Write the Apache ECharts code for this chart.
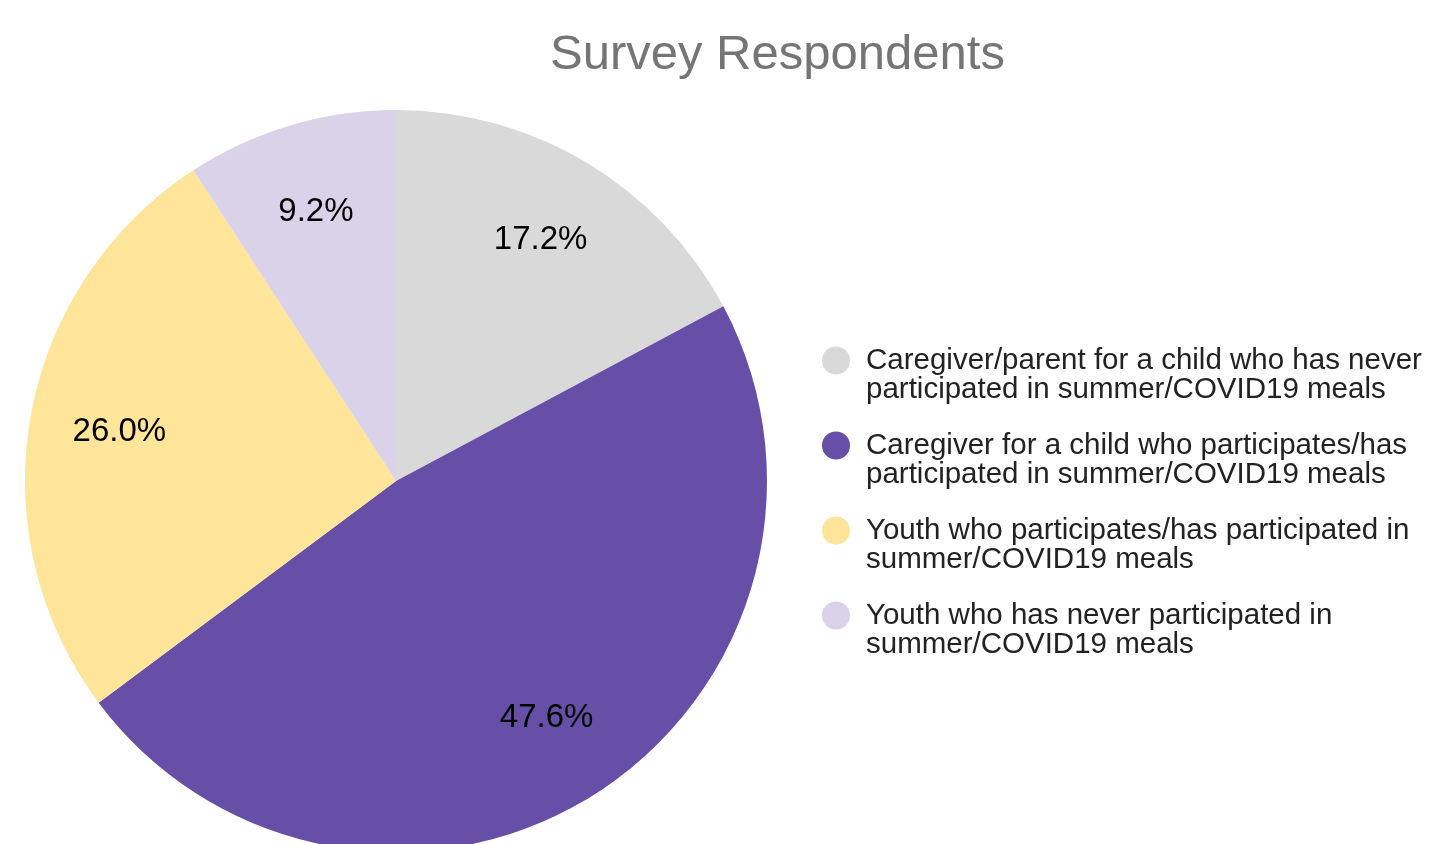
<!DOCTYPE html>
<html>
<head>
<meta charset="utf-8">
<script src="https://cdn.jsdelivr.net/npm/echarts@6/dist/echarts.min.js"></script>
<style>
html,body{margin:0;padding:0;background:#fff;}
#chart{width:1432px;height:844px;}
</style>
</head>
<body>
<div id="chart"></div>
<script>
const categories = [
  'Caregiver/parent for a child who has never participated in summer/COVID19 meals',
  'Caregiver for a child who participates/has participated in summer/COVID19 meals',
  'Youth who participates/has participated in summer/COVID19 meals',
  'Youth who has never participated in summer/COVID19 meals'
];
const legendLabels = [
  'Caregiver/parent for a child who has never\nparticipated in summer/COVID19 meals',
  'Caregiver for a child who participates/has\nparticipated in summer/COVID19 meals',
  'Youth who participates/has participated in\nsummer/COVID19 meals',
  'Youth who has never participated in\nsummer/COVID19 meals'
];
const values = [17.2, 47.6, 26.0, 9.2];
const colors = ['#d9d9d9', '#674ea7', '#ffe599', '#d9d2e9'];

const font = '"Liberation Sans", Arial, sans-serif';
const data = categories.map((n, i) => ({ name: n, value: values[i], itemStyle: { color: colors[i] } }));

const chart = echarts.init(document.getElementById('chart'));
chart.setOption({
  animation: false,
  backgroundColor: '#ffffff',
  title: {
    text: 'Survey Respondents',
    left: 545, top: 26,
    textStyle: { fontFamily: font, fontSize: 49, fontWeight: 'normal', color: '#757575' }
  },
  legend: {
    orient: 'vertical',
    left: 817, top: 341,
    itemWidth: 28, itemHeight: 58, itemGap: 26,
    icon: 'path://M0,14A14,14 0 1,1 28,14A14,14 0 1,1 0,14ZM13.99,58L14,58L14,57.99Z',
    data: categories,
    formatter: function (name) { return legendLabels[categories.indexOf(name)]; },
    textStyle: { fontFamily: font, fontSize: 29.5, lineHeight: 29, color: '#222222', padding: [0, 0, 0, 11], verticalAlign: 'top' },
    selectedMode: false
  },
  series: [
    {
      type: 'pie',
      center: [396, 481],
      radius: [0, 371],
      startAngle: 90,
      clockwise: true,
      label: { show: false },
      labelLine: { show: false },
      itemStyle: { borderWidth: 0 },
      emphasis: { disabled: true },
      data: data
    },
    {
      type: 'pie',
      center: [396, 481],
      radius: [185, 371],
      startAngle: 90,
      clockwise: true,
      silent: true,
      itemStyle: { color: 'rgba(0,0,0,0)', borderWidth: 0 },
      label: {
        show: true, position: 'inside',
        formatter: function (p) { return p.value.toFixed(1) + '%'; },
        fontFamily: font, fontSize: 33, color: '#000000'
      },
      labelLine: { show: false },
      emphasis: { disabled: true },
      data: categories.map((n, i) => ({ name: n + ' ', value: values[i] }))
    }
  ]
});
</script>
</body>
</html>
